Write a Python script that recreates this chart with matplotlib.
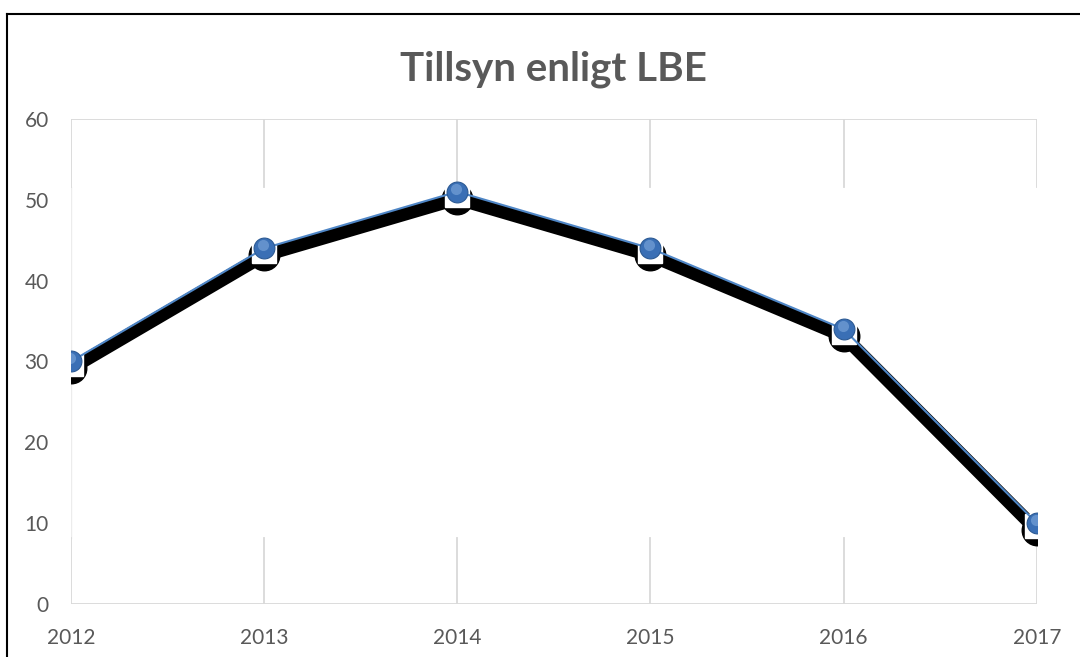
import matplotlib
matplotlib.use("Agg")
import matplotlib.pyplot as plt
import matplotlib.transforms as mtrans
from matplotlib.lines import Line2D

# Data
years = [2012, 2013, 2014, 2015, 2016, 2017]
values = [30, 44, 51, 44, 34, 10]
yticks = [0, 10, 20, 30, 40, 50, 60]
title = "Tillsyn enligt LBE"

plt.rcParams['font.family'] = ['Lato', 'DejaVu Sans']
grey_text = '#595959'
grid_col = '#d9d9d9'

fig = plt.figure(figsize=(10.8, 6.57), dpi=100)
ax = fig.add_axes([0.0657, 0.0807, 0.8943, 0.7382])
ax.set_xlim(years[0], years[-1])
ax.set_ylim(0, 60)

# gridlines with gap in the middle (as in the picture)
gap_lo, gap_hi = 8.2, 51.6
for i, yr in enumerate(years):
    if i == 0:
        ax.plot([yr, yr], [gap_lo, gap_hi], color='#ececec', lw=1, zorder=1)
    ax.plot([yr, yr], [0, gap_lo], color=grid_col, lw=1.3, zorder=1)
    ax.plot([yr, yr], [gap_hi, 60], color=grid_col, lw=1.3, zorder=1)
ax.axhline(60, color=grid_col, lw=1.3, zorder=1)
ax.axhline(0, color=grid_col, lw=1.3, zorder=1)

# black shadow
shadow = mtrans.offset_copy(ax.transData, fig=fig, x=0, y=-7, units='dots')
ax.plot(years, values, color='black', lw=9.5, transform=shadow, zorder=2,
        solid_joinstyle='miter', solid_capstyle='butt')
ax.plot(years, values, ls='none', marker='o', ms=22, color='black',
        transform=shadow, zorder=3)
sq = mtrans.offset_copy(ax.transData, fig=fig, x=0, y=-3, units='dots')
ax.plot(years, values, ls='none', marker='s', ms=17, color='white',
        transform=sq, zorder=4)

# blue series
ax.plot(years, values, color='#4f86c6', lw=1.5, zorder=5)
ax.plot(years, values, ls='none', marker='o', ms=15, color='#3a6fb5',
        markeredgecolor='#2c5a94', markeredgewidth=0.8, zorder=6)
hl = mtrans.offset_copy(ax.transData, fig=fig, x=-1, y=3, units='dots')
ax.plot(years, values, ls='none', marker='o', ms=8, color='#7fa9dc',
        markeredgewidth=0, alpha=0.6, transform=hl, zorder=7)

for s in ax.spines.values():
    s.set_visible(False)
ax.set_xticks(years)
ax.set_yticks(yticks)
ax.tick_params(length=0, colors=grey_text, labelsize=15)
ax.tick_params(axis='y', pad=16)
ax.tick_params(axis='x', pad=17)

ax.set_title(title, fontsize=29, fontweight='bold', color=grey_text, pad=28)

# outer chart frame
fig.add_artist(Line2D([7 / 1080, 7 / 1080], [0, 1 - 14 / 657], color='black', lw=1.5,
                      transform=fig.transFigure))
fig.add_artist(Line2D([7 / 1080, 1], [1 - 14 / 657, 1 - 14 / 657], color='black', lw=1.5,
                      transform=fig.transFigure))

fig.savefig("out.png", dpi=100)
